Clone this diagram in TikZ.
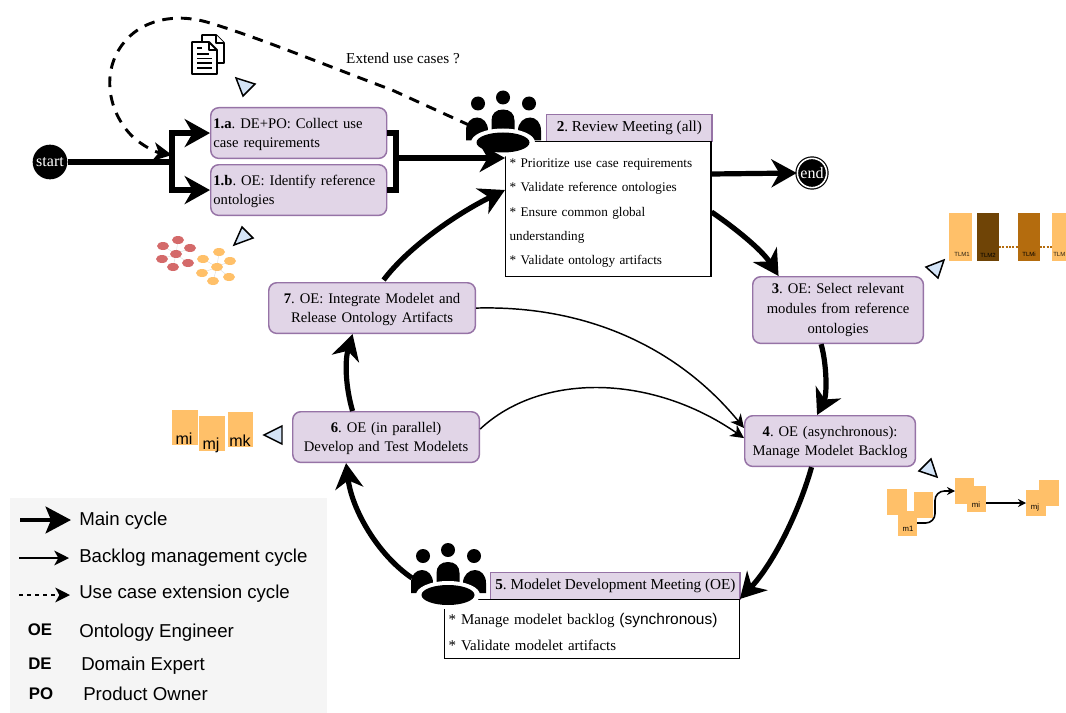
\documentclass[tikz,border=0pt]{standalone}
\usepackage{fontspec}
\setmainfont{Liberation Serif}
\setsansfont{Liberation Sans}
\usetikzlibrary{arrows.meta,calc,shapes.geometric}
\definecolor{boxfill}{HTML}{E1D5E7}
\definecolor{boxline}{HTML}{9673A6}
\definecolor{hint}{HTML}{D4E4F7}
\definecolor{mod}{HTML}{FFC069}
\definecolor{tlmdark}{HTML}{6F4406}
\definecolor{tlmmid}{HTML}{B46C0E}
\definecolor{reddot}{HTML}{D46A6A}
\newcommand{\nf}{\fontsize{11}{14.3}\selectfont\frenchspacing}
\newcommand{\nfwide}{\fontsize{11}{15}\selectfont\frenchspacing}
\newcommand{\firstdrop}{\rule{0pt}{13pt}}
\newcommand{\smalldrop}{\rule{0pt}{9.5pt}}
\tikzset{
 x=0.75pt,y=-0.75pt,
 bignode/.style={draw=boxline,fill=boxfill,line width=1.1pt,rounded corners=6pt,anchor=north west,inner sep=1.5pt,font=\nf},
 titlenode/.style={draw=boxline,fill=boxfill,line width=1.1pt,anchor=north west,inner sep=1pt,font=\fontsize{11.4}{15}\selectfont\frenchspacing,align=center},
 bodynode/.style={draw=black,fill=white,line width=0.9pt,anchor=north west,inner sep=3pt,font=\fontsize{9.9}{18.3}\selectfont\frenchspacing,align=left},
 mainarrow/.style={line width=3.9pt,-{Stealth[length=19pt,width=21pt,inset=6pt]}},
 thinarrow/.style={line width=1.1pt,-{Stealth[length=10pt,width=10pt,inset=3pt]}},
 dasharrow/.style={line width=2.2pt,dash pattern=on 8pt off 6pt,-{Stealth[length=14pt,width=14pt,inset=4pt]}},
 hinttri/.style={draw=black,fill=hint,line width=1.1pt,line join=miter},
 tlmlab/.style={font=\sffamily\fontsize{4.5}{5}\selectfont,text=black!85!mod,inner sep=0pt},
 modlab/.style={font=\sffamily\fontsize{5.8}{6}\selectfont,inner sep=0pt},
 mlab/.style={font=\sffamily\fontsize{12}{13}\selectfont,inner sep=0pt},
 legtext/.style={font=\sffamily\fontsize{14}{16}\selectfont,anchor=west,inner sep=0pt},
 legkey/.style={font=\sffamily\bfseries\fontsize{12.6}{14}\selectfont,inner sep=0pt},
 dotr/.style={ellipse,fill=reddot,minimum width=9pt,minimum height=6pt,inner sep=0pt},
 doto/.style={ellipse,fill=mod,minimum width=9pt,minimum height=6pt,inner sep=0pt},
 people/.pic={
  \fill (-25,-39) circle[radius=7];
  \fill (0,-45) circle[radius=7];
  \fill (26,-39) circle[radius=7];
  \fill (-11.5,-10) -- (-11.5,-22) .. controls (-11.5,-29) and (-7,-33) .. (0,-33) .. controls (7,-33) and (11.5,-29) .. (11.5,-22) -- (11.5,-10) -- cycle;
  \fill (-37,-2) -- (-37,-12) .. controls (-37,-20) and (-32,-25) .. (-26,-25) .. controls (-20,-25) and (-15,-20) .. (-15,-12) -- (-15,-2) -- cycle;
  \fill (38,-2) -- (38,-12) .. controls (38,-20) and (33,-25) .. (27,-25) .. controls (21,-25) and (15,-20) .. (15,-12) -- (15,-2) -- cycle;
  \fill[white] (0,0) ellipse[x radius=32,y radius=14];
  \fill (0,0) ellipse[x radius=26.5,y radius=10];
 }
}
\begin{document}
\begin{tikzpicture}
\useasboundingbox (0,0) rectangle (1066,713);
% legend panel
\fill[black!4] (10,498) rectangle (327,713);
% process boxes
\node[bignode,minimum width=132pt,minimum height=38pt,text width=128pt,align=left] (n1a) at (210,107) {\smalldrop\textbf{1.a}. DE+PO: Collect use\\case requirements};
\node[bignode,minimum width=132pt,minimum height=38pt,text width=128pt,align=left] (n1b) at (210,164) {\smalldrop\textbf{1.b}. OE: Identify reference\\ontologies};
\node[titlenode,minimum width=124pt,minimum height=20pt] (n2t) at (546,114) {\textbf{2}. Review Meeting (all)};
\node[bodynode,minimum width=154pt,minimum height=101pt,text width=148pt] (n2b) at (505,141) {\firstdrop{}* Prioritize use case requirements\\{}* Validate reference ontologies\\{}* Ensure common global\\understanding\\{}* Validate ontology artifacts};
\node[bignode,minimum width=128pt,minimum height=50pt,text width=124pt,align=center,font=\nfwide] (n3) at (752,276) {\textbf{3}. OE: Select relevant\\modules from reference\\ontologies};
\node[bignode,minimum width=128pt,minimum height=38pt,text width=124pt,align=center] (n4) at (744,415) {\smalldrop\textbf{4}. OE (asynchronous):\\Manage Modelet Backlog};
\node[titlenode,minimum width=187pt,minimum height=20pt] (n5t) at (490,572) {\textbf{5}. Modelet Development Meeting (OE)};
\node[bodynode,minimum width=221pt,minimum height=44pt,text width=215pt,font=\fontsize{11.2}{19.5}\selectfont\frenchspacing] (n5b) at (444,599) {\firstdrop{}* Manage modelet backlog {\sffamily\fontsize{11.6}{19.5}\selectfont(synchronous)}\\{}* Validate modelet artifacts};
\node[bignode,minimum width=140pt,minimum height=38pt,text width=136pt,align=center] (n6) at (292,411) {\smalldrop\textbf{6}. OE (in parallel)\\Develop and Test Modelets};
\node[bignode,minimum width=155pt,minimum height=38pt,text width=151pt,align=center] (n7) at (268,282) {\smalldrop\textbf{7}. OE: Integrate Modelet and\\Release Ontology Artifacts};
\node[circle,fill=black,text=white,minimum size=26pt,inner sep=0pt,font=\fontsize{12}{14}\selectfont] (start) at (50,162) {start};
\node[circle,draw=black,double=white,double distance=1.2pt,line width=0.9pt,fill=black,text=white,minimum size=22pt,inner sep=0pt,font=\fontsize{12}{14}\selectfont] (end) at (812,173) {end};
\node[font=\fontsize{11.4}{13}\selectfont,inner sep=0pt] (ext) at (403,58) {Extend use cases ?};
% meeting icons
\pic at (503,142.5) {people};
\pic at (448,595) {people};
\coordinate (ic2) at (503,142.5);
\coordinate (ic5) at (448,595);
% junctions
\coordinate (jl) at (172,162);
\coordinate (jr) at (396,158);
% connectors
\draw[line width=3.9pt] (start.east) -- (jl);
\draw[mainarrow] (jl) |- (n1a.west);
\draw[mainarrow] (jl) |- (n1b.west);
\draw[line width=3.9pt,line join=miter] (n1a.east) -| (jr) |- (n1b.east);
\draw[mainarrow] (jr) -- (jr -| n2b.west);
\draw[mainarrow] ($(n2b.north east)+(0,33)$) -- (end.west);
\draw[mainarrow] ($(n2b.north east)+(0,71)$) .. controls (735,228) and (762,250) .. ($(n3.north)+(-59.5,0)$);
\draw[mainarrow] ($(n3.south)+(-17,0)$) .. controls (827,365) and (827,395) .. ($(n4.north)+(-13,0)$);
\draw[mainarrow] ($(n4.south)+(-18.5,0)$) .. controls (798,515) and (772,565) .. (n5b.north east);
\draw[mainarrow] ($(ic5)+(-36,-17)$) .. controls (378,555) and (352,510) .. ($(n6.south)+(-40,0)$);
\draw[mainarrow] ($(n6.north)+(-33.5,0)$) .. controls (345,385) and (345,360) .. ($(n7.south)+(-19.5,0)$);
\draw[mainarrow] ($(n7.north)+(11.5,-2)$) .. controls (410,245) and (460,212) .. ($(n2b.north west)+(0,49)$);
\draw[thinarrow] (n7.east) .. controls (590,305) and (680,350) .. ($(n4.north west)+(0,13)$);
\draw[thinarrow] ($(n6.east)+(0,-8)$) .. controls (540,373) and (650,373) .. ($(n4.west)+(0,-3)$);
\draw[dasharrow] ($(ic2)+(-33,-17)$) -- (392,90) .. controls (330,67) and (260,38) .. (210,23) .. controls (175,12) and (140,20) .. (122,45) .. controls (100,75) and (110,115) .. (133,137) .. controls (143,146) and (155,152) .. ($(jl)+(0,-7)$);
% document icon
\begin{scope}[line width=1.4pt,line join=round]
\draw[fill=white] (202,42) -- (202,35) -- (216,35) -- (224,43) -- (224,63) -- (217,63);
\draw[fill=white] (216,35) -- (216,43) -- (224,43);
\draw[fill=white] (192,42) -- (209,42) -- (217,50) -- (217,74) -- (192,74) -- cycle;
\draw (209,42) -- (209,50) -- (217,50);
\draw (197,48) -- (202,48) (197,54) -- (209,54) (197,58.5) -- (212,58.5) (197,63) -- (212,63) (197,68) -- (212,68);
\end{scope}
% hint triangles
\draw[hinttri] (236,78) -- (255,84) -- (243,96) -- cycle;
\draw[hinttri] (242,227) -- (253,238) -- (234,245) -- cycle;
\draw[hinttri] (944,260) -- (926,267) -- (938,278) -- cycle;
\draw[hinttri] (931,459) -- (919,471) -- (937,477) -- cycle;
\draw[hinttri] (264,435) -- (282,426) -- (282,444) -- cycle;
% ontology clusters
\draw[black!15,line width=0.3pt] (176,254) -- (178,240) (176,254) -- (163,246) (176,254) -- (190,248) (176,254) -- (162,259) (176,254) -- (188,263) (176,254) -- (173,267);
\draw[black!15,line width=0.3pt] (217,267) -- (219,252) (217,267) -- (203,259) (217,267) -- (230,261) (217,267) -- (202,273) (217,267) -- (229,277) (217,267) -- (213,281);
\foreach \p [count=\i] in {(178,240),(163,246),(190,248),(176,254),(162,259),(188,263),(173,267)} \node[dotr] (r\i) at \p {};
\foreach \p [count=\i] in {(219,252),(203,259),(230,261),(217,267),(202,273),(229,277),(213,281)} \node[doto] (o\i) at \p {};
% TLM blocks
\fill[mod] (949,213) rectangle (972,261);
\fill[tlmdark] (977,213) rectangle (999,261);
\fill[tlmmid] (1018,213) rectangle (1040,261);
\fill[mod] (1052,213) rectangle (1066,261);
\draw[tlmmid,line width=1.1pt,dash pattern=on 1.5pt off 1pt] (999,247) -- (1018,247) (1040,247) -- (1052,247);
\node[tlmlab] at (962,254.5) {TLM1};
\node[tlmlab,text=black] at (988,255.5) {TLM2};
\node[tlmlab,text=black] at (1029,254.5) {TLMi};
\node[tlmlab,anchor=east] at (1065.5,254.5) {TLM};
% modelet blocks
\fill[mod] (172,410) rectangle (198,445);
\fill[mod] (199,416) rectangle (225,451);
\fill[mod] (228,412) rectangle (253,447);
\node[mlab] at (184,439) {mi};
\node[mlab] at (211,445) {mj};
\node[mlab] at (240,441) {mk};
% backlog blocks
\fill[mod] (887,489) rectangle (907,515);
\fill[mod] (914,492) rectangle (933,518);
\fill[mod] (898,511) rectangle (917,536);
\fill[mod] (955,478) rectangle (974,504);
\fill[mod] (967,486) rectangle (986,512);
\fill[mod] (1039,480) rectangle (1059,506);
\fill[mod] (1026,490) rectangle (1046,516);
\node[modlab] (bm1) at (908,529) {m1};
\node[modlab] (bmi) at (976,505) {mi};
\node[modlab] (bmj) at (1035,507) {mj};
\coordinate (bm1e) at (917,523);
\coordinate (bmiw) at (955,491);
\coordinate (bmie) at (986,503);
\coordinate (bmjw) at (1026,503);
\draw[line width=1.2pt,rounded corners=7pt,-{Stealth[length=6pt,width=6pt]}] (bm1e) -- (935,523) -- (935,491) -- (bmiw);
\draw[line width=1.2pt,-{Stealth[length=6pt,width=6pt]}] (bmie) -- (bmjw);
% legend
\coordinate (l1a) at (20,520); \coordinate (l1b) at (71,520);
\coordinate (l2a) at (19,558); \coordinate (l2b) at (69,558);
\coordinate (l3a) at (19,595); \coordinate (l3b) at (70,595);
\draw[line width=3.2pt,-{Stealth[length=19pt,width=20pt,inset=4pt]}] (l1a) -- (l1b);
\draw[line width=1.1pt,-{Stealth[length=11pt,width=11pt,inset=3pt]}] (l2a) -- (l2b);
\draw[line width=1.1pt,dash pattern=on 3pt off 3pt,-{Stealth[length=11pt,width=11pt,inset=3pt]}] (l3a) -- (l3b);
\node[legtext] (t1) at (79,521) {Main cycle};
\node[legtext] (t2) at (79,558) {Backlog management cycle};
\node[legtext] (t3) at (79,594) {Use case extension cycle};
\node[legtext] (t4) at (79,633) {Ontology Engineer};
\node[legtext] (t5) at (81,666) {Domain Expert};
\node[legtext] (t6) at (83,694) {Product Owner};
\node[legkey] (k1) at (40,630) {OE};
\node[legkey] (k2) at (40,664) {DE};
\node[legkey] (k3) at (41,694) {PO};
\end{tikzpicture}
\end{document}
